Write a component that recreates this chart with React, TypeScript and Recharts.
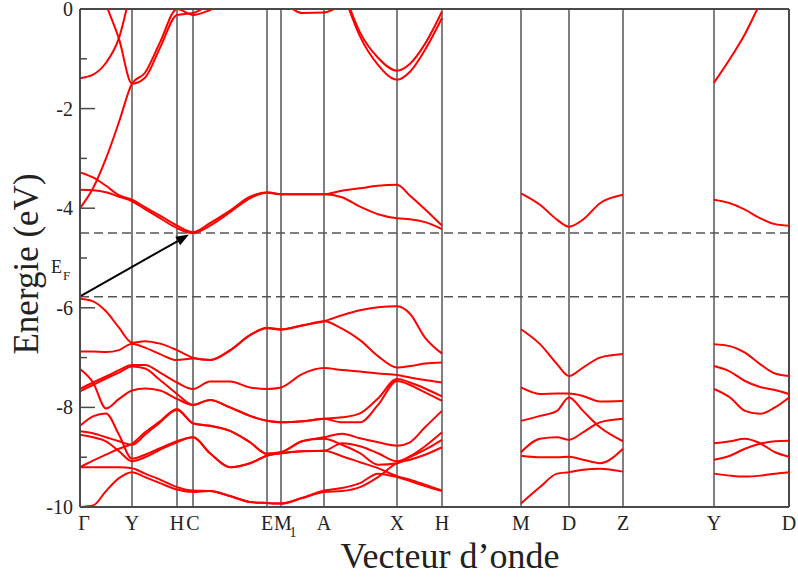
import React from 'react';
import { LineChart, Line, XAxis, YAxis, ReferenceLine } from 'recharts';

// high-symmetry points along the path (k measured from Γ)
const symK = [0, 52, 97, 113, 187, 201, 244, 317, 362, 441, 489, 543, 634, 709];
const symLabels = ['Γ', 'Y', 'H', 'C', 'E', 'M1', 'A', 'X', 'H', 'M', 'D', 'Z', 'Y', 'D'];
const yTicks = [0, -1, -2, -3, -4, -5, -6, -7, -8, -9, -10];

const fermiTop = -4.5;
const fermiBottom = -5.78;

// path Γ-Y-H-C-E-M1-A-X-H
const kPath1 = [0, 13, 26, 39, 52, 65, 80, 97, 113, 130, 150, 170, 187, 201, 222, 244, 262, 280, 298, 317, 330, 345, 362];
const N = null;

const cbA = [-1.39, -1.32, -1.08, -0.58, 0.5, N, N, N, N, N, N, N, N, N, N, N, N, N, N, N, N, N, N];
const cbB1 = [-4.0, -3.6, -3.0, -2.27, -1.5, -1.28, -0.67, 0.0, -0.12, -0.02, 0.15, N, N, N, N, N, N, N, N, N, N, N, N];
const cbB2 = [N, 0.9, 0.1, -0.6, -1.5, -1.38, -0.78, -0.12, -0.08, 0.1, N, N, N, N, N, N, N, N, N, N, N, N, N];
const cbArc = [N, N, N, N, N, N, N, N, N, N, N, N, N, 0.25, -0.08, -0.07, 0.1, N, N, N, N, N, N];
const cbP1 = [N, N, N, N, N, N, N, N, N, N, N, N, N, N, N, N, 0.45, -0.47, -0.98, -1.24, -1.1, -0.7, -0.05];
const cbP2 = [N, N, N, N, N, N, N, N, N, N, N, N, N, N, N, N, 0.4, -0.55, -1.12, -1.42, -1.26, -0.82, -0.18];
const cb1 = [-3.28, -3.38, -3.55, -3.74, -3.83, -3.98, -4.15, -4.35, -4.48, -4.3, -4.05, -3.77, -3.68, -3.72, -3.72, -3.72, -3.65, -3.6, -3.55, -3.53, -3.75, -4.02, -4.35];
const cb2 = [-3.63, -3.64, -3.68, -3.77, -3.86, -4.02, -4.2, -4.4, -4.5, -4.35, -4.08, -3.8, -3.69, -3.72, -3.72, -3.72, -3.78, -3.97, -4.12, -4.2, -4.22, -4.28, -4.42];

const vb1 = [-5.82, -5.87, -6.07, -6.4, -6.7, -6.67, -6.72, -6.85, -7.0, -7.05, -6.85, -6.55, -6.4, -6.43, -6.35, -6.27, -6.15, -6.05, -5.99, -5.97, -6.12, -6.6, -6.92];
const vb2 = [-6.88, -6.88, -6.89, -6.85, -6.72, -6.8, -6.93, -7.05, -7.02, -7.05, -6.86, -6.55, -6.41, -6.44, -6.36, -6.27, -6.42, -6.65, -6.97, -7.2, -7.17, -7.12, -7.1];
const vb3 = [-7.23, -7.5, -8.02, -7.83, -7.66, -7.62, -7.66, -7.83, -7.95, -7.85, -8.0, -8.17, -8.27, -8.3, -8.28, -8.23, -8.3, -8.3, -7.95, -7.47, -7.55, -7.7, -7.87];
const vb4 = [-7.63, -7.5, -7.38, -7.25, -7.15, -7.15, -7.3, -7.5, -7.63, -7.48, -7.48, -7.6, -7.63, -7.6, -7.33, -7.21, -7.25, -7.28, -7.32, -7.35, -7.4, -7.45, -7.5];
const vb5 = [-7.68, -7.55, -7.42, -7.3, -7.18, -7.22, -7.45, -7.73, -7.95, -7.85, -8.0, -8.17, -8.27, -8.3, -8.28, -8.23, -8.2, -8.12, -7.82, -7.43, -7.5, -7.62, -7.78];
const vb6 = [-8.37, -8.18, -8.12, -8.55, -9.03, -8.95, -8.82, -8.68, -8.6, -8.92, -9.2, -9.12, -8.97, -8.92, -8.88, -8.87, -8.72, -8.78, -8.92, -9.08, -8.98, -8.78, -8.5];
const vb7 = [-9.2, -9.07, -8.95, -8.83, -8.73, -8.5, -8.28, -8.03, -8.32, -8.37, -8.47, -8.7, -8.93, -8.9, -8.68, -8.6, -8.53, -8.62, -8.7, -8.77, -8.7, -8.4, -8.07];
const vb8 = [-8.48, -8.52, -8.6, -8.68, -8.75, -8.55, -8.3, -8.05, -8.32, -8.37, -8.47, -8.7, -8.93, -8.9, -8.68, -8.63, -8.75, -8.92, -9.15, -9.12, -9.0, -8.85, -8.65];
const vb9 = [-8.55, -8.6, -8.68, -8.88, -9.08, -9.0, -8.85, -8.7, -8.6, -8.92, -9.2, -9.12, -8.97, -8.92, -8.88, -8.87, -8.98, -9.1, -9.22, -9.38, -9.45, -9.55, -9.67];
const vb10 = [-9.2, -9.2, -9.2, -9.2, -9.22, -9.33, -9.45, -9.6, -9.67, -9.68, -9.78, -9.9, -9.92, -9.93, -9.82, -9.67, -9.62, -9.52, -9.33, -9.4, -9.48, -9.58, -9.68];
const vb11 = [-10.0, -9.97, -9.68, -9.42, -9.3, -9.4, -9.52, -9.65, -9.7, -9.68, -9.78, -9.9, -9.92, -9.93, -9.82, -9.7, -9.68, -9.6, -9.4, -9.12, -9.05, -8.95, -8.8];

// path M-D-Z
const kPath2 = [441, 460, 477, 489, 503, 520, 543];
const mzC = [-3.7, -3.93, -4.23, -4.37, -4.23, -3.9, -3.73];
const mz1 = [-6.43, -6.73, -7.13, -7.37, -7.2, -7.0, -6.93];
const mz2 = [-7.6, -7.73, -7.72, -7.72, -7.77, -7.88, -7.87];
const mz3 = [-8.27, -8.17, -8.07, -7.8, -8.07, -8.4, -8.68];
const mz4 = [-8.9, -8.63, -8.6, -8.65, -8.5, -8.3, -8.23];
const mz5 = [-8.97, -9.0, -9.0, -8.99, -9.05, -9.12, -8.83];
const mz6 = [-9.93, -9.6, -9.33, -9.3, -9.25, -9.23, -9.29];

// path Y-D
const kPath3 = [634, 650, 665, 680, 695, 709];
const ydTop = [-1.48, -1.0, -0.5, 0.1, 0.6, N];
const ydC = [-3.83, -3.9, -4.03, -4.2, -4.32, -4.35];
const yd1 = [-6.73, -6.77, -6.9, -7.13, -7.32, -7.37];
const yd2 = [-7.17, -7.28, -7.47, -7.59, -7.65, -7.73];
const yd3 = [-7.63, -7.8, -8.07, -8.13, -8.0, -7.8];
const yd4 = [-8.72, -8.68, -8.63, -8.72, -8.9, -8.99];
const yd5 = [-9.05, -8.97, -8.83, -8.73, -8.68, -8.67];
const yd6 = [-9.33, -9.37, -9.39, -9.37, -9.33, -9.3];

const toData = (ks: number[], es: (number | null)[]) =>
  ks.map((k, i) => ({ k, e: es[i] })).filter((p) => p.e !== null);

const bands = [
  ...[cbA, cbB1, cbB2, cbArc, cbP1, cbP2, cb1, cb2, vb1, vb2, vb3, vb4, vb5, vb6, vb7, vb8, vb9, vb10, vb11].map((b) => toData(kPath1, b)),
  ...[mzC, mz1, mz2, mz3, mz4, mz5, mz6].map((b) => toData(kPath2, b)),
  ...[ydTop, ydC, yd1, yd2, yd3, yd4, yd5, yd6].map((b) => toData(kPath3, b)),
];

const serif = 'Liberation Serif, Times New Roman, serif';
const txt = { fontFamily: serif, fill: '#222' };
const frame = '#4a4a4a';
const PLOT_LEFT = 80;

const YTick = (props: any) => {
  const { y, payload } = props;
  const v = payload.value;
  const major = v % 2 === 0;
  return (
    <g>
      <line x1={PLOT_LEFT} x2={PLOT_LEFT + (major ? 15 : 7)} y1={y} y2={y} stroke={frame} strokeWidth={1.5} />
      {major && (
        <text x={73} y={y + 7} textAnchor="end" fontSize={20} style={txt}>
          {v}
        </text>
      )}
    </g>
  );
};

const XTick = (props: any) => {
  const { x, payload } = props;
  const label = symLabels[symK.indexOf(payload.value)];
  if (label === 'M1') {
    return (
      <g>
        <text x={x + 2} y={530} textAnchor="middle" fontSize={20} style={txt}>M</text>
        <text x={x + 12} y={537} textAnchor="middle" fontSize={14} style={txt}>1</text>
      </g>
    );
  }
  return (
    <text x={x + (label === 'Γ' ? 4 : 0)} y={530} textAnchor="middle" fontSize={20} style={txt}>
      {label}
    </text>
  );
};

const ArrowShape = (props: any) => {
  const { x1, y1, x2, y2 } = props;
  const ang = Math.atan2(y2 - y1, x2 - x1);
  const len = 13;
  const w = 5;
  const bx = x2 - len * Math.cos(ang);
  const by = y2 - len * Math.sin(ang);
  const px = -Math.sin(ang) * w;
  const py = Math.cos(ang) * w;
  return (
    <g>
      <line x1={x1} y1={y1} x2={bx} y2={by} stroke="#000" strokeWidth={2} />
      <polygon points={`${x2},${y2} ${bx + px},${by + py} ${bx - px},${by - py}`} fill="#000" />
      <text x={x1 - 30} y={y1 - 23} fontSize={18} style={txt}>E</text>
      <text x={x1 - 18} y={y1 - 16} fontSize={13} style={txt}>F</text>
    </g>
  );
};

const xTitle = () => (
  <text x={450} y={568} textAnchor="middle" fontSize={36} style={txt}>
    Vecteur d’onde
  </text>
);

const yTitle = () => (
  <text x={38} y={264} transform="rotate(-90, 38, 264)" textAnchor="middle" fontSize={35} style={txt}>
    Energie (eV)
  </text>
);

export default function App() {
  return (
    <div style={{ position: 'absolute', left: 0, top: 0, background: '#fff' }}>
      <LineChart width={798} height={579} margin={{ top: 9, right: 9, bottom: 32, left: 10 }}>
        <XAxis
          dataKey="k"
          type="number"
          domain={[0, 709]}
          ticks={symK}
          allowDataOverflow
          height={40}
          tickLine={false}
          axisLine={{ stroke: frame, strokeWidth: 2 }}
          tick={<XTick />}
          interval={0}
          label={xTitle}
        />
        <YAxis
          type="number"
          domain={[-10, 0]}
          ticks={yTicks}
          allowDataOverflow
          width={70}
          tickLine={false}
          axisLine={{ stroke: frame, strokeWidth: 2 }}
          tick={<YTick />}
          interval={0}
          label={yTitle}
        />
        {symK.slice(1, -1).map((k, i) => (
          <ReferenceLine key={'v' + i} x={k} stroke="#000" strokeWidth={1} />
        ))}
        <ReferenceLine x={709} stroke={frame} strokeWidth={2} />
        <ReferenceLine y={0} stroke={frame} strokeWidth={2} />
        <ReferenceLine y={fermiTop} stroke="#555" strokeWidth={1.5} strokeDasharray="9 5" />
        <ReferenceLine y={fermiBottom} stroke="#555" strokeWidth={1.5} strokeDasharray="9 5" />
        {bands.map((d, i) => (
          <Line
            key={'b' + i}
            data={d}
            dataKey="e"
            type="monotone"
            stroke="#ff0000"
            strokeWidth={2}
            dot={false}
            activeDot={false}
            isAnimationActive={false}
          />
        ))}
        <ReferenceLine
          segment={[{ x: 1, y: fermiBottom + 0.02 }, { x: 109, y: fermiTop - 0.03 }]}
          shape={ArrowShape}
        />
      </LineChart>
    </div>
  );
}
